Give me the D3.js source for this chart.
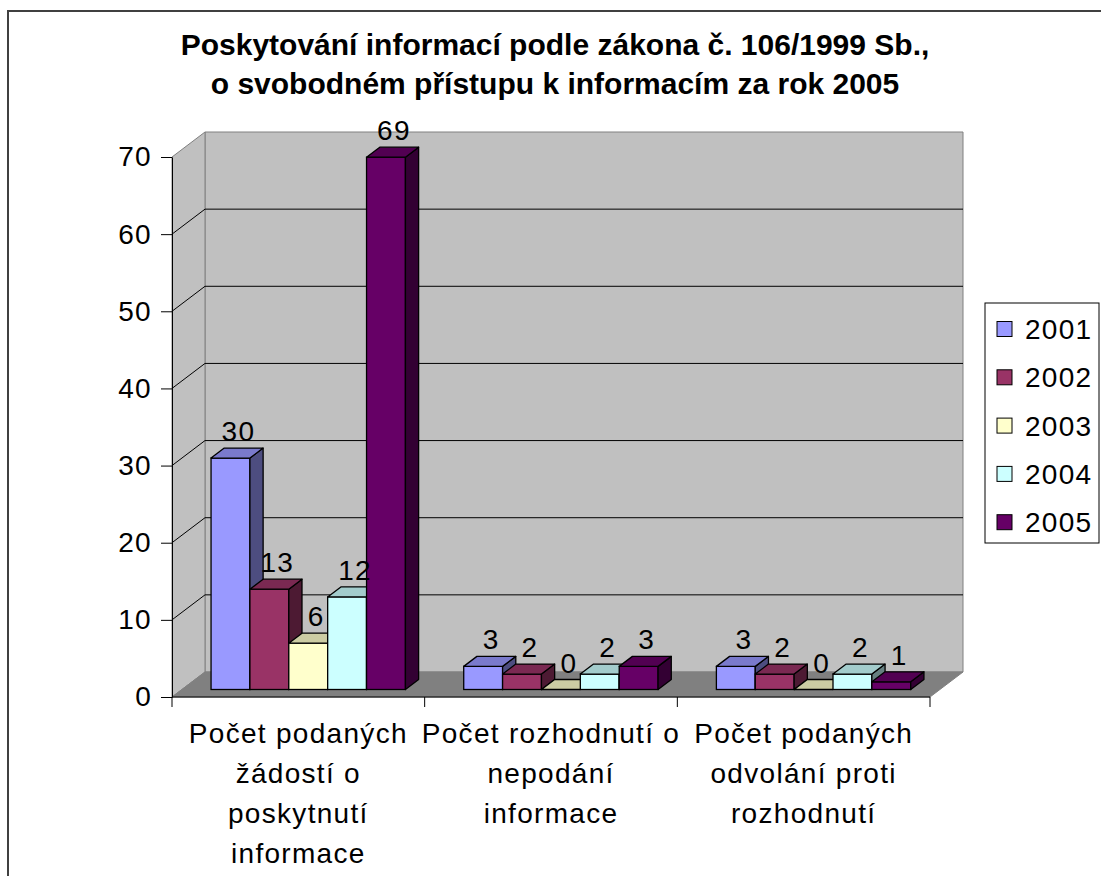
<!DOCTYPE html>
<html>
<head>
<meta charset="utf-8">
<script src="https://cdn.jsdelivr.net/npm/d3@7"></script>
<style>
  body { margin: 0; background: #fff; }
  svg text { font-family: "Liberation Sans", Arial, sans-serif; }
</style>
</head>
<body>
<div id="chart"></div>
<script>
const categories = [
    "Počet podaných žádostí o poskytnutí informace",
    "Počet rozhodnutí o nepodání informace",
    "Počet podaných odvolání proti rozhodnutí"
];
// radky popisku kategorii, tak jak jsou zalomene v obrazku
const categoryLines = [
    ["Počet podaných", "žádostí o", "poskytnutí", "informace"],
    ["Počet rozhodnutí o", "nepodání", "informace"],
    ["Počet podaných", "odvolání proti", "rozhodnutí"]
];
const years = ["2001", "2002", "2003", "2004", "2005"];
const values2001 = [30, 3, 3];
const values2002 = [13, 2, 2];
const values2003 = [6, 0, 0];
const values2004 = [12, 2, 2];
const values2005 = [69, 3, 1];
const yTicks = [0, 10, 20, 30, 40, 50, 60, 70];
const titleLines = [
    "Poskytování informací podle zákona č. 106/1999 Sb.,",
    "o svobodném přístupu k informacím za rok 2005"
];

const seriesValues = [values2001, values2002, values2003, values2004, values2005];

// barvy: celo, vrsek, bok
const colors = {
    "2001": ["#9999FF", "#7A7ACC", "#4D4D80"],
    "2002": ["#993366", "#7A2952", "#4D1A33"],
    "2003": ["#FFFFCC", "#CCCCA3", "#808066"],
    "2004": ["#CCFFFF", "#A3CCCC", "#668080"],
    "2005": ["#660066", "#520052", "#330033"]
};

const width = 1101, height = 876;
const DX = 33, DY = 25;       // hloubka 3D
const f0 = 0.3, f1 = 0.7;     // predni a zadni stena sloupcu v hloubce

const svg = d3.select("#chart").append("svg")
    .attr("width", width)
    .attr("height", height);

// ramecek grafu
svg.append("rect")
    .attr("x", 8).attr("y", 11)
    .attr("width", 1110).attr("height", 900)
    .attr("fill", "none")
    .attr("stroke", "#404040")
    .attr("stroke-width", 2);

const y = d3.scaleLinear().domain([0, 70]).range([697, 157]);
const x0 = d3.scaleBand().domain(categories).range([172, 930]);
const x1 = d3.scaleBand().domain(years).range([0, x0.bandwidth()])
    .paddingInner(0).paddingOuter(0.75);

const xL = x0.range()[0], xR = x0.range()[1];
const y0 = y(0), yTop = y(70);

// zadni stena
svg.append("polygon")
    .attr("points", [[xL + DX, yTop - DY], [xR + DX, yTop - DY], [xR + DX, y0 - DY], [xL + DX, y0 - DY]].join(" "))
    .attr("fill", "#C0C0C0")
    .attr("stroke", "#808080");

// leva stena
svg.append("polygon")
    .attr("points", [[xL, yTop], [xL + DX, yTop - DY], [xL + DX, y0 - DY], [xL, y0]].join(" "))
    .attr("fill", "#C0C0C0")
    .attr("stroke", "#808080");

// podlaha
svg.append("polygon")
    .attr("points", [[xL, y0], [xL + DX, y0 - DY], [xR + DX, y0 - DY], [xR, y0]].join(" "))
    .attr("fill", "#808080")
    .attr("stroke", "#808080");

// mrizka
const grid = yTicks.filter(t => t > 0 && t < 70);
svg.append("g").selectAll("path")
    .data(grid)
    .join("path")
    .attr("d", t => `M${xL},${y(t)}L${xL + DX},${y(t) - DY}L${xR + DX},${y(t) - DY}`)
    .attr("fill", "none")
    .attr("stroke", "#000")
    .attr("stroke-width", 1);

// osa y
const yAxis = svg.append("g")
    .attr("transform", `translate(${xL},0)`)
    .call(d3.axisLeft(y).tickValues(yTicks).tickSize(11).tickSizeOuter(0).tickPadding(9));
yAxis.select(".domain").attr("stroke", "#000");
yAxis.selectAll(".tick line").attr("stroke", "#000");
yAxis.selectAll(".tick text")
    .attr("font-size", 28)
    .attr("letter-spacing", "1.3px")
    .attr("font-family", "Liberation Sans, Arial, sans-serif")
    .attr("fill", "#000");

// osa x: cara a znacky na hranicich kategorii
svg.append("line")
    .attr("x1", xL).attr("x2", xR)
    .attr("y1", y0).attr("y2", y0)
    .attr("stroke", "#000");
const boundaries = categories.map(c => x0(c)).concat([x0(categories[categories.length - 1]) + x0.bandwidth()]);
svg.append("g").selectAll("line")
    .data(boundaries)
    .join("line")
    .attr("x1", d => d).attr("x2", d => d)
    .attr("y1", y0).attr("y2", y0 + 10)
    .attr("stroke", "#000");

// sloupce
const dw = (f1 - f0) * DX, dh = (f1 - f0) * DY;
categories.forEach((cat, ci) => {
    const g = svg.append("g");
    years.forEach((yr, si) => {
        const v = seriesValues[si][ci];
        const bx = x0(cat) + x1(yr) + f0 * DX;
        const bw = x1.bandwidth();
        const yt = y(v) - f0 * DY;
        const yb = y0 - f0 * DY;
        const c = colors[yr];

        if (v > 0) {
            g.append("rect")
                .attr("x", bx).attr("y", yt)
                .attr("width", bw).attr("height", yb - yt)
                .attr("fill", c[0])
                .attr("stroke", "#000").attr("stroke-width", 1.3);
            g.append("polygon")
                .attr("points", [[bx + bw, yt], [bx + bw + dw, yt - dh], [bx + bw + dw, yb - dh], [bx + bw, yb]].join(" "))
                .attr("fill", c[2])
                .attr("stroke", "#000").attr("stroke-width", 1.3)
                .attr("stroke-linejoin", "round");
        }
        g.append("polygon")
            .attr("points", [[bx, yt], [bx + dw, yt - dh], [bx + bw + dw, yt - dh], [bx + bw, yt]].join(" "))
            .attr("fill", c[1])
            .attr("stroke", "#000").attr("stroke-width", 1.3)
            .attr("stroke-linejoin", "round");

        svg.append("text")
            .attr("x", bx + bw / 2 + 8)
            .attr("y", y(v) - f0 * DY - 17)
            .attr("text-anchor", "middle")
            .attr("font-size", 28)
            .attr("letter-spacing", "1.3px")
            .text(v);
    });
});

// popisky kategorii
categories.forEach((cat, ci) => {
    const t = svg.append("text")
        .attr("text-anchor", "middle")
        .attr("font-size", 28)
        .attr("letter-spacing", "1.3px");
    categoryLines[ci].forEach((line, li) => {
        t.append("tspan")
            .attr("x", x0(cat) + x0.bandwidth() / 2)
            .attr("y", 743 + li * 40)
            .text(line);
    });
});

// titulek
svg.append("text")
    .attr("text-anchor", "middle")
    .attr("font-size", 30)
    .attr("font-weight", "bold")
    .selectAll("tspan")
    .data(titleLines)
    .join("tspan")
    .attr("x", 555)
    .attr("y", (d, i) => 55 + i * 39)
    .text(d => d);

// legenda
const legend = svg.append("g");
legend.append("rect")
    .attr("x", 985).attr("y", 303)
    .attr("width", 114).attr("height", 240)
    .attr("fill", "#fff")
    .attr("stroke", "#000");
years.forEach((yr, i) => {
    const cy = 329 + i * 48.3;
    legend.append("rect")
        .attr("x", 997).attr("y", cy - 7.5)
        .attr("width", 15).attr("height", 15)
        .attr("fill", colors[yr][0])
        .attr("stroke", "#000");
    legend.append("text")
        .attr("x", 1025).attr("y", cy + 10)
        .attr("font-size", 28)
        .attr("letter-spacing", "1.3px")
        .text(yr);
});
</script>
</body>
</html>
